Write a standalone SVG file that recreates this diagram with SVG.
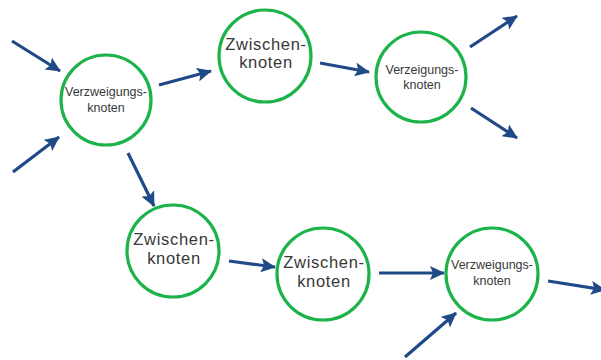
<svg xmlns="http://www.w3.org/2000/svg" width="601" height="360" viewBox="0 0 601 360">
<defs>
<marker id="ah" markerWidth="16" markerHeight="14" refX="14" refY="7" orient="auto" markerUnits="userSpaceOnUse">
<path d="M0,0 L15,7 L0,14 L3,7 Z" fill="#1f4a87"/>
</marker>
<style>
.n{fill:#fff;stroke:#1db34b;stroke-width:3.2}
.c{stroke:#1f4a87;stroke-width:3.2;fill:none;marker-end:url(#ah)}
.z{font-family:"Liberation Sans",Arial,sans-serif;font-size:16.5px;letter-spacing:0.7px;fill:#383838;text-anchor:middle}
.v{font-family:"Liberation Sans",Arial,sans-serif;font-size:12.5px;fill:#383838;text-anchor:middle}
</style>
</defs>
<rect width="601" height="360" fill="#fff"/>
<g id="connectors">
<line class="c" x1="12" y1="41" x2="60" y2="71"/>
<line class="c" x1="13" y1="172" x2="59" y2="137"/>
<line class="c" x1="159" y1="85" x2="211" y2="71"/>
<line class="c" x1="128" y1="153" x2="154" y2="206"/>
<line class="c" x1="320" y1="63" x2="369" y2="72"/>
<line class="c" x1="470" y1="47" x2="517" y2="16"/>
<line class="c" x1="471" y1="108" x2="517" y2="138"/>
<line class="c" x1="229" y1="261" x2="275" y2="267"/>
<line class="c" x1="379" y1="273" x2="444" y2="273"/>
<line class="c" x1="405" y1="357" x2="456" y2="313"/>
<line class="c" x1="548" y1="281" x2="605" y2="290"/>
</g>
<g id="n1"><circle class="n" cx="106" cy="100" r="45"/><text class="v" x="106" y="96">Verzweigungs-</text><text class="v" x="106" y="112">knoten</text></g>
<g id="n2"><circle class="n" cx="265" cy="56" r="46"/><text class="z" x="266" y="50">Zwischen-</text><text class="z" x="266" y="68">knoten</text></g>
<g id="n3"><circle class="n" cx="421" cy="77" r="45"/><text class="v" x="422" y="74">Verzeigungs-</text><text class="v" x="422" y="89">knoten</text></g>
<g id="n4"><circle class="n" cx="173" cy="251" r="46"/><text class="z" x="174" y="245">Zwischen-</text><text class="z" x="174" y="264">knoten</text></g>
<g id="n5"><circle class="n" cx="323" cy="274" r="46"/><text class="z" x="324" y="268">Zwischen-</text><text class="z" x="324" y="287">knoten</text></g>
<g id="n6"><circle class="n" cx="492" cy="274" r="46"/><text class="v" x="492" y="269">Verzweigungs-</text><text class="v" x="492" y="285">knoten</text></g>
</svg>
